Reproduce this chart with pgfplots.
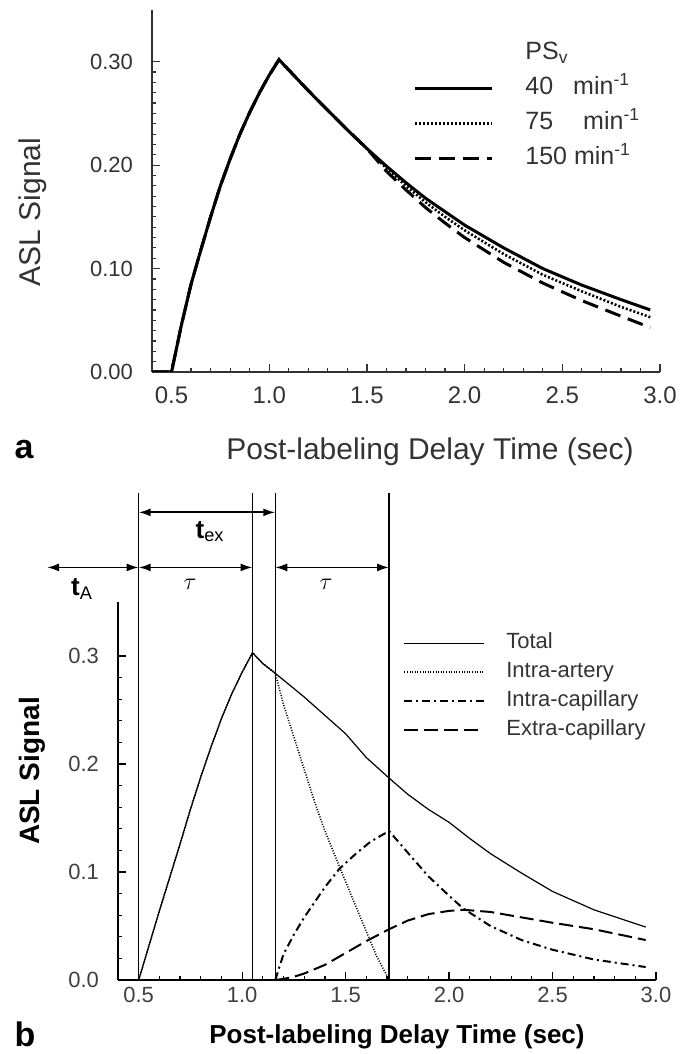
\documentclass[border=0pt]{standalone}
\usepackage{fontspec}
\setmainfont{Liberation Sans}
\usepackage{pgfplots}
\pgfplotsset{compat=1.18}
\usetikzlibrary{arrows.meta}
\definecolor{txt}{gray}{0.2}
\begin{document}
\begin{tikzpicture}
% ---------------- panel a ----------------
\begin{axis}[
  at={(76pt,341pt)}, anchor=south west, scale only axis,
  width=254pt, height=181pt,
  xmin=0.4, xmax=3.0, ymin=0, ymax=0.35,
  axis lines=left, axis line style={-, line width=0.8pt, txt},
  tick style={txt, line width=0.6pt},
  tick align=inside, major tick length=4pt, minor tick length=2pt,
  xtick={0.5,1.0,1.5,2.0,2.5,3.0}, ytick={0,0.1,0.2,0.3},
  minor x tick num=4, minor y tick num=9,
  /pgf/number format/assume math mode=true,
  x tick label style={/pgf/number format/fixed,/pgf/number format/fixed zerofill,/pgf/number format/precision=1, font=\fontsize{12}{14}\selectfont, text=txt, yshift=-4pt},
  y tick label style={/pgf/number format/fixed,/pgf/number format/fixed zerofill,/pgf/number format/precision=2, font=\fontsize{11}{12}\selectfont, text=txt, xshift=-6pt},
  legend style={draw=none, fill=none, inner sep=0pt, at={(axis cs:1.736,0.320)}, anchor=north west,
    font=\fontsize{12.5}{14}\selectfont, text=txt, row sep=5.5pt,
    nodes={inner sep=0pt, text height=9pt, text depth=3pt}},
  legend cell align=left,
  legend image code/.code={\draw[#1] (0pt,0pt) -- (38.5pt,0pt); \path (54.5pt,0pt);},
]
\addlegendimage{empty legend}
\addlegendentry{PS\textsubscript{v}}
\addplot[black, line width=1.5pt] coordinates {
(0.4,0)(0.5,0)(0.55,0.045)(0.6,0.085)(0.65,0.118)(0.7,0.150)(0.75,0.180)(0.8,0.206)(0.85,0.230)(0.9,0.251)(0.95,0.270)(1.0,0.287)(1.05,0.302)(1.1,0.292)(1.2,0.272)(1.3,0.253)(1.4,0.234)(1.5,0.216)(1.6,0.199)(1.7,0.183)(1.8,0.168)(1.9,0.155)(2.0,0.142)(2.2,0.120)(2.4,0.100)(2.6,0.084)(2.8,0.070)(2.95,0.060)};
\addlegendentry{40\hspace{10pt}min\textsuperscript{-1}}
\addplot[black, line width=1.3pt, dash pattern=on 1pt off 1pt] coordinates {
(0.4,0)(0.5,0)(0.55,0.045)(0.6,0.085)(0.65,0.118)(0.7,0.150)(0.75,0.180)(0.8,0.206)(0.85,0.230)(0.9,0.251)(0.95,0.270)(1.0,0.287)(1.05,0.302)(1.1,0.292)(1.2,0.272)(1.3,0.253)(1.4,0.234)(1.5,0.216)(1.6,0.197)(1.7,0.180)(1.8,0.164)(1.9,0.150)(2.0,0.137)(2.2,0.114)(2.4,0.094)(2.6,0.078)(2.8,0.063)(2.95,0.053)};
\addlegendentry{75\hspace{15pt}min\textsuperscript{-1}}
\addplot[black, line width=1.5pt, dash pattern=on 8pt off 4pt] coordinates {
(0.4,0)(0.5,0)(0.55,0.045)(0.6,0.085)(0.65,0.118)(0.7,0.150)(0.75,0.180)(0.8,0.206)(0.85,0.230)(0.9,0.251)(0.95,0.270)(1.0,0.287)(1.05,0.302)(1.1,0.292)(1.2,0.272)(1.3,0.253)(1.4,0.234)(1.5,0.216)(1.6,0.194)(1.7,0.176)(1.8,0.159)(1.9,0.144)(2.0,0.130)(2.2,0.106)(2.4,0.086)(2.6,0.069)(2.8,0.054)(2.95,0.043)};
\addlegendentry{150 min\textsuperscript{-1}}
\end{axis}
\node[font=\fontsize{15}{18}\selectfont, text=txt, rotate=90] at (16.5pt,421pt) {ASL Signal};
\node[font=\fontsize{15}{18}\selectfont, text=txt] at (215pt,301pt) {Post-labeling Delay Time (sec)};
\node[font=\fontsize{17}{20}\selectfont\bfseries] at (12pt,302pt) {a};
% ---------------- panel b ----------------
\begin{axis}[
  at={(59pt,37pt)}, anchor=south west, scale only axis,
  width=269pt, height=189pt,
  xmin=0.4, xmax=3.0, ymin=0, ymax=0.35,
  clip=false,
  axis lines=left, axis line style={-, line width=0.8pt},
  tick style={black, line width=0.6pt},
  tick align=inside, major tick length=4pt, minor tick length=2pt,
  xtick={0.5,1.0,1.5,2.0,2.5,3.0}, ytick={0,0.1,0.2,0.3},
  minor x tick num=4, minor y tick num=4,
  /pgf/number format/assume math mode=true,
  x tick label style={/pgf/number format/fixed,/pgf/number format/fixed zerofill,/pgf/number format/precision=1, font=\fontsize{11}{12}\selectfont, text=black!75},
  y tick label style={/pgf/number format/fixed,/pgf/number format/fixed zerofill,/pgf/number format/precision=1, font=\fontsize{11}{12}\selectfont, text=black!75, xshift=-6pt},
  legend style={draw=none, fill=none, inner sep=0pt, at={(axis cs:1.777,0.322)}, anchor=north west,
    font=\fontsize{11}{13}\selectfont, text=black!80, row sep=4pt,
    nodes={inner sep=0pt, text height=8pt, text depth=2.5pt}},
  legend cell align=left,
  legend image code/.code={\draw[#1] (0pt,0pt) -- (40pt,0pt); \path (50.5pt,0pt);},
]
\addplot[black, line width=0.6pt] coordinates {
(0.5,0)(0.55,0.032)(0.6,0.064)(0.65,0.095)(0.7,0.126)(0.75,0.158)(0.8,0.188)(0.85,0.216)(0.9,0.242)(0.95,0.265)(1.0,0.285)(1.05,0.303)(1.1,0.293)(1.16,0.284)(1.3,0.262)(1.4,0.245)(1.5,0.228)(1.6,0.206)(1.71,0.187)(1.8,0.172)(1.9,0.158)(2.0,0.146)(2.1,0.131)(2.2,0.117)(2.35,0.099)(2.5,0.082)(2.7,0.065)(2.95,0.049)};
\addlegendentry{Total}
\addplot[black, line width=0.8pt, dash pattern=on 0.5pt off 0.8pt] coordinates {
(0.5,0)(0.55,0.032)(0.6,0.064)(0.65,0.095)(0.7,0.126)(0.75,0.158)(0.8,0.188)(0.85,0.216)(0.9,0.242)(0.95,0.265)(1.0,0.285)(1.05,0.303)(1.1,0.293)(1.16,0.284)(1.2,0.255)(1.25,0.225)(1.3,0.195)(1.35,0.165)(1.4,0.138)(1.47,0.105)(1.55,0.068)(1.6,0.045)(1.65,0.022)(1.71,0)(2.95,0)};
\addlegendentry{Intra-artery}
\addplot[black, line width=1pt, dash pattern=on 4pt off 2pt on 1pt off 2pt] coordinates {
(1.16,0)(1.2,0.024)(1.25,0.042)(1.3,0.058)(1.4,0.086)(1.47,0.103)(1.55,0.117)(1.62,0.128)(1.71,0.138)(1.8,0.118)(1.9,0.096)(2.0,0.078)(2.07,0.066)(2.2,0.050)(2.35,0.037)(2.5,0.028)(2.7,0.019)(2.95,0.012)};
\addlegendentry{Intra-capillary}
\addplot[black, line width=1pt, dash pattern=on 7pt off 3pt] coordinates {
(1.16,0)(1.2,0.001)(1.25,0.003)(1.3,0.006)(1.4,0.014)(1.5,0.025)(1.6,0.036)(1.71,0.047)(1.8,0.055)(1.9,0.061)(2.0,0.064)(2.07,0.065)(2.2,0.063)(2.35,0.058)(2.5,0.053)(2.7,0.047)(2.95,0.037)};
\addlegendentry{Extra-capillary}
% vertical guide lines
\addplot[black, line width=0.6pt, forget plot] coordinates {(0.5,0)(0.5,0.451)};
\addplot[black, line width=0.6pt, forget plot] coordinates {(1.05,0)(1.05,0.451)};
\addplot[black, line width=0.6pt, forget plot] coordinates {(1.16,0)(1.16,0.451)};
\addplot[black, line width=0.6pt, forget plot] coordinates {(1.71,0)(1.71,0.451)};
% arrows
\draw[{Latex[length=6pt,width=4pt]}-{Latex[length=6pt,width=4pt]}, line width=0.9pt] (axis cs:0.5,0.433) -- (axis cs:1.16,0.433);
\draw[{Latex[length=6pt,width=4pt]}-{Latex[length=6pt,width=4pt]}, line width=0.9pt] (axis cs:0.5,0.382) -- (axis cs:1.05,0.382);
\draw[{Latex[length=6pt,width=4pt]}-{Latex[length=6pt,width=4pt]}, line width=0.9pt] (axis cs:1.16,0.382) -- (axis cs:1.71,0.382);
\draw[{Latex[length=6pt,width=4pt]}-{Latex[length=6pt,width=4pt]}, line width=0.9pt] (axis cs:0.057,0.382) -- (axis cs:0.5,0.382);
\node[font=\fontsize{13}{15}\selectfont] at (axis cs:0.845,0.415) {\textbf{t}\textsubscript{ex}};
\node[font=\fontsize{13}{15}\selectfont] at (axis cs:0.226,0.362) {\textbf{t}\textsubscript{A}};
\node[font=\fontsize{13}{15}\selectfont] at (axis cs:0.748,0.366) {$\tau$};
\node[font=\fontsize{13}{15}\selectfont] at (axis cs:1.405,0.366) {$\tau$};
\end{axis}
\node[font=\fontsize{14}{17}\selectfont\bfseries, rotate=90] at (16.3pt,141.5pt) {ASL Signal};
\node[font=\fontsize{13}{16}\selectfont\bfseries] at (198.5pt,8.5pt) {Post-labeling Delay Time (sec)};
\node[font=\fontsize{17}{20}\selectfont\bfseries] at (12.5pt,10pt) {b};
\pgfresetboundingbox
\useasboundingbox (0,0) rectangle (340.5pt,527pt);
\end{tikzpicture}
\end{document}
